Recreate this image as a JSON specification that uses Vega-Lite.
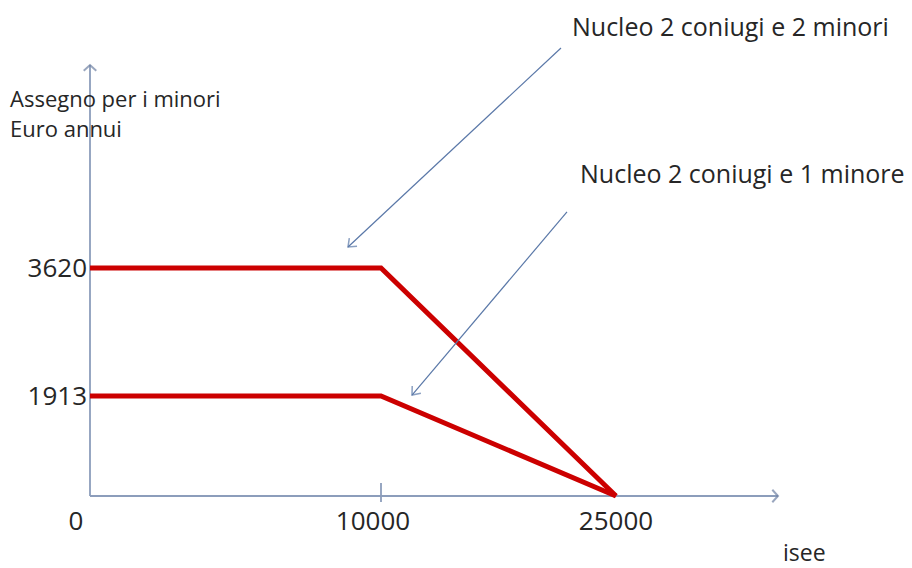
{
  "$schema": "https://vega.github.io/schema/vega-lite/v6.json",
  "width": 912,
  "height": 568,
  "autosize": "none",
  "padding": 0,
  "background": "white",
  "config": {"view": {"stroke": null}, "font": "Open Sans"},
  "datasets": {
    "curves": [
      {"serie": "Nucleo 2 coniugi e 2 minori", "isee": 0, "assegno": 3620},
      {"serie": "Nucleo 2 coniugi e 2 minori", "isee": 10000, "assegno": 3620},
      {"serie": "Nucleo 2 coniugi e 2 minori", "isee": 25000, "assegno": 0},
      {"serie": "Nucleo 2 coniugi e 1 minore", "isee": 0, "assegno": 1913},
      {"serie": "Nucleo 2 coniugi e 1 minore", "isee": 10000, "assegno": 1913},
      {"serie": "Nucleo 2 coniugi e 1 minore", "isee": 25000, "assegno": 0}
    ],
    "axes": [
      {"x": 0, "y": 0, "x2": 35340, "y2": 0},
      {"x": 0, "y": 0, "x2": 0, "y2": 6327},
      {"x": 10000, "y": -115, "x2": 10000, "y2": 249}
    ],
    "axisHeads": [
      {"x": 35340, "y": 0, "angle": 0},
      {"x": 0, "y": 6327, "angle": 270}
    ],
    "pointers": [
      {"x": 21489, "y": 6554, "x2": 8866, "y2": 3900, "angle": 137},
      {"x": 21872, "y": 4367, "x2": 11979, "y2": 1926, "angle": 130}
    ],
    "tickLabels": [
      {"x": -481, "y": -497, "label": "0"},
      {"x": 9725, "y": -497, "label": "10000"},
      {"x": 25000, "y": -497, "label": "25000"}
    ],
    "yLabels": [
      {"x": -100, "y": 3600, "label": "3620"},
      {"x": -100, "y": 1893, "label": "1913"}
    ],
    "notes": [
      {"x": 22191, "y": 6821, "label": "Nucleo 2 coniugi e 2 minori", "size": 25},
      {"x": 22702, "y": 4860, "label": "Nucleo 2 coniugi e 1 minore", "size": 25},
      {"x": -2749, "y": 5860, "label": "Assegno per i minori", "size": 22},
      {"x": -2749, "y": 5460, "label": "Euro annui", "size": 22},
      {"x": 35659, "y": -1110, "label": "isee", "size": 23}
    ]
  },
  "encoding": {
    "x": {"field": "x", "type": "quantitative", "axis": null,
          "scale": {"domain": [0, 10000, 25000], "range": [90, 381, 616], "nice": false, "zero": false}},
    "y": {"field": "y", "type": "quantitative", "axis": null,
          "scale": {"domain": [0, 1913, 3620], "range": [496, 396, 268], "nice": false, "zero": false}}
  },
  "layer": [
    {
      "data": {"name": "axes"},
      "mark": {"type": "rule", "color": "#8C9DBB", "strokeWidth": 1.8},
      "encoding": {"x2": {"field": "x2"}, "y2": {"field": "y2"}}
    },
    {
      "data": {"name": "axisHeads"},
      "mark": {"type": "point", "shape": "M -1 -1.1 L 0 0 L -1 1.1", "filled": false, "stroke": "#6F81A3", "strokeWidth": 2, "size": 130},
      "encoding": {"angle": {"field": "angle", "type": "quantitative", "scale": null}}
    },
    {
      "data": {"name": "curves"},
      "mark": {"type": "line", "color": "#CC0000", "strokeWidth": 5, "strokeJoin": "miter"},
      "encoding": {
        "x": {"field": "isee"},
        "y": {"field": "assegno"},
        "detail": {"field": "serie", "type": "nominal"}
      }
    },
    {
      "data": {"name": "pointers"},
      "mark": {"type": "rule", "color": "#5A78A8", "strokeWidth": 1.2},
      "encoding": {"x2": {"field": "x2"}, "y2": {"field": "y2"}}
    },
    {
      "data": {"name": "pointers"},
      "mark": {"type": "point", "shape": "M -1 -0.8 L 0 0 L -1 0.8", "filled": false, "stroke": "#5A78A8", "strokeWidth": 1.5, "size": 200},
      "encoding": {
        "x": {"field": "x2"},
        "y": {"field": "y2"},
        "angle": {"field": "angle", "type": "quantitative", "scale": null}
      }
    },
    {
      "data": {"name": "tickLabels"},
      "mark": {"type": "text", "fontSize": 26, "color": "#262626", "baseline": "middle", "align": "center"},
      "encoding": {"text": {"field": "label"}}
    },
    {
      "data": {"name": "yLabels"},
      "mark": {"type": "text", "fontSize": 26, "color": "#262626", "baseline": "middle", "align": "right"},
      "encoding": {"text": {"field": "label"}}
    },
    {
      "data": {"name": "notes"},
      "mark": {"type": "text", "color": "#262626", "baseline": "middle", "align": "left"},
      "encoding": {"text": {"field": "label"}, "size": {"field": "size", "type": "quantitative", "scale": null}}
    }
  ]
}
